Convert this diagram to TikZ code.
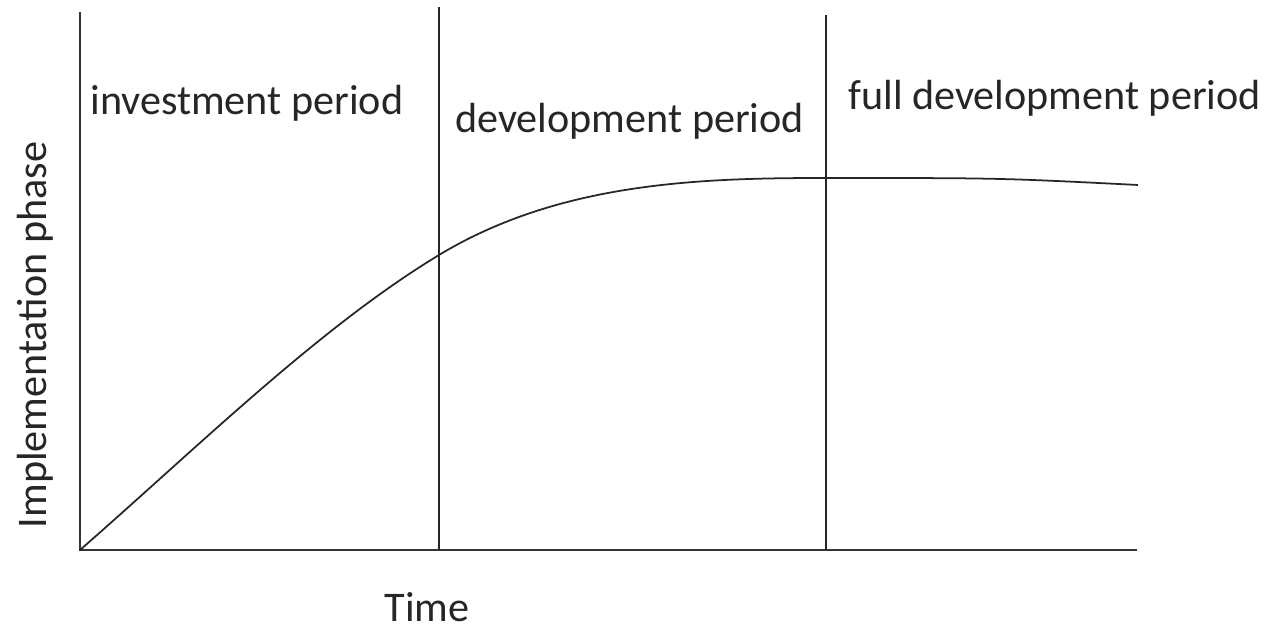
\documentclass[tikz,border=0pt]{standalone}
\usepackage{fontspec}
\setmainfont{Carlito}
\usepackage{tikz}

\tikzset{
    period/.style={anchor=base west, inner sep=0pt, font=\fontsize{24}{28}\selectfont, text=black!85},
    axis/.style={line width=1.6pt, black!80},
    divider/.style={line width=1.2pt, black!85},
}

\begin{document}
\begin{tikzpicture}[x=0.02cm, y=-0.02cm]
        \useasboundingbox (0,0) rectangle (1266,631);
        % axes
        \coordinate (o) at (80,550);
        \coordinate (ytop) at (80,12);
        \coordinate (xend) at (1137,550);
        \draw[axis] (ytop) -- (o) -- (xend);
        % period borders
        \coordinate (b1top) at (439,7);
        \coordinate (b1bot) at (439,550);
        \coordinate (b2top) at (826,15);
        \coordinate (b2bot) at (826,550);
        \draw[divider] (b1top) -- (b1bot);
        \draw[divider] (b2top) -- (b2bot);
        % growth curve
        \coordinate (cross) at (439,255);
        \coordinate (sat) at (826,178);
        \coordinate (cend) at (1138,185);
        \draw[line width=1pt, black!85] (o) .. controls (200,445) and (320,327) .. (cross)
            .. controls (560,182) and (700,178) .. (sat)
            .. controls (1000,178) .. (cend);
        % labels
        \node[period] (invest) at (90,115) {investment period};
        \node[period] (develop) at (455,133) {development period};
        \node[period] (full) at (848,110) {full development period};
        \node[period, anchor=base] (time) at (427,621) {Time};
        \node[period, anchor=base, rotate=90] (phase) at (46,335) {Implementation phase};
    \end{tikzpicture}
\end{document}
